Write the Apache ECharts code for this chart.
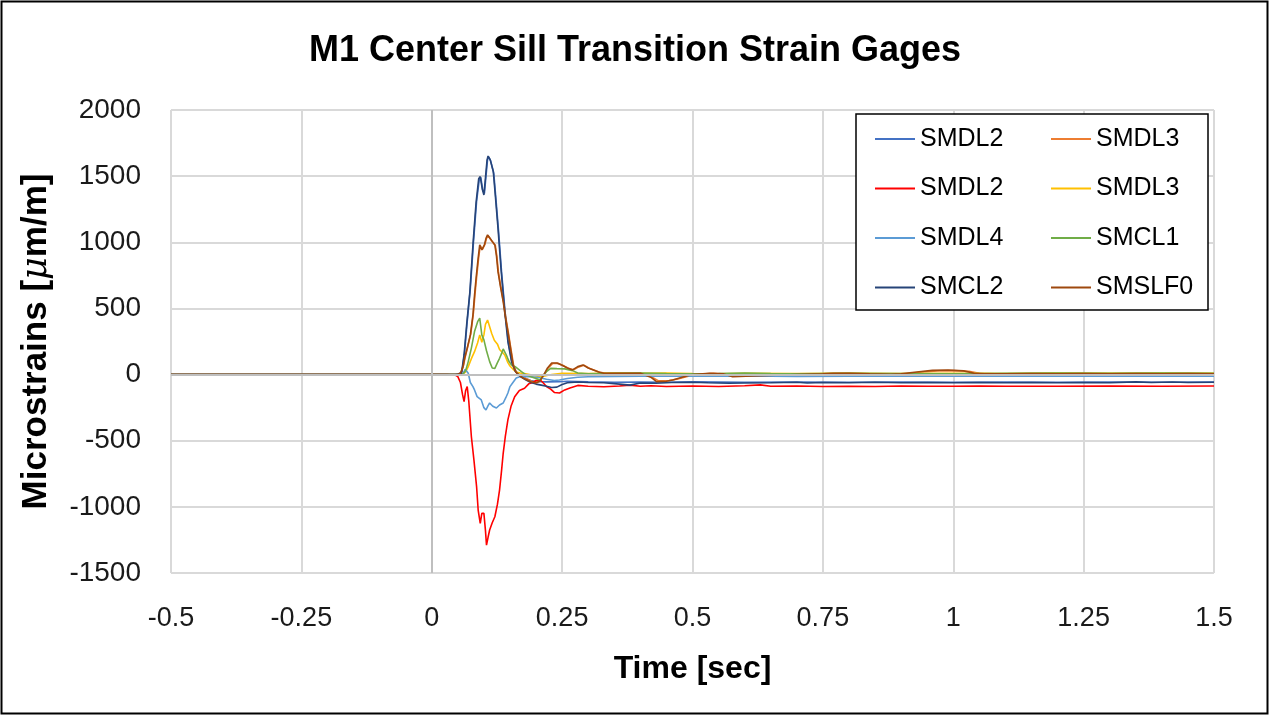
<!DOCTYPE html>
<html>
<head>
<meta charset="utf-8">
<script src="https://cdn.jsdelivr.net/npm/echarts@6/dist/echarts.min.js"></script>
<style>
  html, body { margin: 0; padding: 0; background: #fff; }
  #chart { width: 1270px; height: 716px; }
</style>
</head>
<body>
<div id="chart"></div>
<script>
// ---------- DATA ----------
const titleText = 'M1 Center Sill Transition Strain Gages';
const xTickLabels = ['-0.5', '-0.25', '0', '0.25', '0.5', '0.75', '1', '1.25', '1.5'];
const yTickLabels = ['-1500', '-1000', '-500', '0', '500', '1000', '1500', '2000'];
const seriesNames = ['SMDL2', 'SMDL3', 'SMDL2', 'SMDL3', 'SMDL4', 'SMCL1', 'SMCL2', 'SMSLF0'];
const seriesColors = ['#4472C4', '#ED7D31', '#FF0000', '#FFC000', '#5B9BD5', '#70AD47', '#264478', '#9E480E'];

// [time (s), microstrain]
const smdl2Blue = [[-0.5,0],[0.03,0],[0.05,2],[0.058,20],[0.063,170],[0.068,400],[0.074,650],[0.08,1000],[0.086,1310],[0.091,1470],[0.094,1490],[0.098,1390],[0.101,1370],[0.104,1500],[0.107,1625],[0.109,1645],[0.113,1615],[0.119,1520],[0.123,1330],[0.128,1090],[0.134,770],[0.141,460],[0.147,240],[0.154,90],[0.162,20],[0.17,-10],[0.18,-30],[0.19,-45],[0.2,-52],[0.22,-55],[0.245,-54],[0.26,-50],[0.28,-52],[0.3,-55],[0.35,-58],[0.4,-56],[0.45,-58],[0.5,-55],[0.6,-58],[0.7,-56],[0.8,-58],[0.9,-56],[1.0,-58],[1.1,-56],[1.2,-58],[1.3,-56],[1.4,-58],[1.5,-56]];

const smdl3Orange = [[-0.5,0],[0.04,0],[0.05,3],[0.056,12],[0.061,70],[0.064,130],[0.069,210],[0.075,310],[0.08,470],[0.083,610],[0.086,735],[0.09,885],[0.093,975],[0.097,945],[0.102,985],[0.105,1030],[0.108,1050],[0.111,1035],[0.115,1010],[0.122,975],[0.125,890],[0.128,770],[0.133,650],[0.138,540],[0.142,430],[0.147,315],[0.152,190],[0.157,70],[0.162,18],[0.168,0],[0.177,-22],[0.19,-48],[0.2,-58],[0.208,-45],[0.216,0],[0.223,48],[0.232,84],[0.242,85],[0.252,68],[0.262,48],[0.272,36],[0.282,58],[0.292,70],[0.302,48],[0.312,33],[0.322,18],[0.335,10],[0.36,10],[0.4,12],[0.42,-15],[0.435,-48],[0.455,-45],[0.47,-36],[0.49,-15],[0.51,2],[0.54,10],[0.57,2],[0.59,-12],[0.63,-8],[0.67,-2],[0.71,2],[0.76,8],[0.8,10],[0.84,6],[0.88,4],[0.91,6],[0.94,20],[0.97,28],[1.0,30],[1.03,25],[1.05,10],[1.08,6],[1.15,6],[1.2,8],[1.25,5],[1.3,8],[1.35,6],[1.4,8],[1.45,6],[1.5,8]];

const smdl2Red = [[-0.5,0],[0.03,0],[0.04,-5],[0.045,-3],[0.05,-16],[0.055,-60],[0.059,-150],[0.062,-205],[0.065,-120],[0.068,-91],[0.071,-200],[0.076,-470],[0.081,-650],[0.086,-848],[0.089,-1024],[0.093,-1125],[0.096,-1049],[0.1,-1049],[0.103,-1180],[0.105,-1289],[0.108,-1230],[0.111,-1175],[0.116,-1120],[0.121,-1075],[0.126,-980],[0.13,-873],[0.134,-720],[0.137,-595],[0.141,-470],[0.146,-343],[0.152,-240],[0.159,-167],[0.168,-120],[0.178,-104],[0.186,-70],[0.194,-60],[0.2,-45],[0.208,-41],[0.214,-64],[0.22,-90],[0.228,-110],[0.235,-135],[0.245,-139],[0.255,-116],[0.265,-101],[0.28,-82],[0.3,-88],[0.33,-92],[0.36,-86],[0.38,-80],[0.4,-88],[0.42,-84],[0.45,-90],[0.5,-86],[0.55,-90],[0.6,-85],[0.63,-78],[0.65,-88],[0.7,-86],[0.75,-90],[0.8,-88],[0.85,-90],[0.9,-86],[0.95,-88],[1.0,-88],[1.05,-86],[1.1,-88],[1.2,-88],[1.3,-86],[1.4,-88],[1.5,-86]];

const smdl3Yellow = [[-0.5,0],[0.05,0],[0.06,5],[0.065,20],[0.07,60],[0.076,120],[0.082,173],[0.088,240],[0.092,300],[0.096,245],[0.1,300],[0.103,380],[0.107,412],[0.11,375],[0.115,310],[0.12,260],[0.126,230],[0.13,190],[0.135,170],[0.14,148],[0.146,90],[0.15,65],[0.156,40],[0.162,20],[0.17,12],[0.18,5],[0.2,-10],[0.21,-16],[0.23,0],[0.25,10],[0.3,8],[0.35,12],[0.4,10],[0.45,12],[0.5,8],[0.55,5],[0.6,10],[0.7,8],[0.8,10],[0.9,8],[1.0,10],[1.1,8],[1.2,12],[1.3,10],[1.4,12],[1.5,10]];

const smdl4 = [[-0.5,0],[0.05,0],[0.06,5],[0.064,40],[0.067,50],[0.07,10],[0.074,-60],[0.079,-91],[0.082,-116],[0.087,-167],[0.095,-192],[0.1,-250],[0.104,-268],[0.108,-235],[0.111,-215],[0.117,-240],[0.124,-253],[0.13,-230],[0.137,-215],[0.142,-175],[0.146,-139],[0.15,-91],[0.155,-64],[0.162,-26],[0.17,-15],[0.19,-16],[0.205,-22],[0.22,-35],[0.235,-45],[0.245,-41],[0.26,-30],[0.28,-20],[0.3,-16],[0.35,-14],[0.4,-12],[0.5,-12],[0.6,-10],[0.7,-14],[0.8,-12],[0.9,-10],[1.0,-12],[1.1,-12],[1.2,-10],[1.3,-12],[1.4,-10],[1.5,-12]];

const smcl1 = [[-0.5,0],[0.05,0],[0.06,5],[0.065,30],[0.07,98],[0.076,200],[0.082,325],[0.088,400],[0.092,426],[0.096,300],[0.1,262],[0.105,180],[0.111,98],[0.116,50],[0.121,47],[0.126,90],[0.13,123],[0.134,160],[0.137,194],[0.143,148],[0.148,100],[0.153,73],[0.16,60],[0.172,22],[0.18,0],[0.19,-16],[0.2,-30],[0.208,-41],[0.215,0],[0.22,22],[0.228,47],[0.24,45],[0.255,43],[0.27,30],[0.28,12],[0.3,5],[0.35,10],[0.4,12],[0.45,8],[0.5,5],[0.55,8],[0.6,12],[0.65,8],[0.7,6],[0.75,8],[0.8,10],[0.9,8],[1.0,6],[1.1,10],[1.2,12],[1.3,10],[1.4,12],[1.5,10]];

const smcl2 = [[-0.5,0],[0.03,0],[0.045,1],[0.052,4],[0.057,10],[0.062,150],[0.067,380],[0.073,620],[0.079,980],[0.085,1300],[0.09,1480],[0.093,1497],[0.097,1400],[0.1,1358],[0.103,1487],[0.106,1620],[0.108,1652],[0.112,1625],[0.118,1535],[0.122,1350],[0.127,1108],[0.133,790],[0.14,476],[0.146,250],[0.153,98],[0.16,25],[0.17,-15],[0.18,-40],[0.19,-60],[0.2,-72],[0.21,-80],[0.22,-88],[0.23,-98],[0.24,-95],[0.25,-75],[0.26,-62],[0.28,-56],[0.3,-60],[0.33,-62],[0.36,-72],[0.38,-80],[0.4,-64],[0.43,-66],[0.46,-60],[0.5,-58],[0.53,-62],[0.57,-66],[0.6,-64],[0.65,-62],[0.7,-58],[0.72,-64],[0.75,-60],[0.8,-62],[0.85,-58],[0.9,-62],[0.95,-60],[1.0,-62],[1.05,-60],[1.1,-62],[1.15,-60],[1.2,-62],[1.25,-60],[1.3,-62],[1.35,-55],[1.38,-60],[1.42,-56],[1.45,-60],[1.5,-58]];

const smslf0 = [[-0.5,0],[0.04,0],[0.05,3],[0.055,10],[0.06,60],[0.063,123],[0.068,200],[0.074,300],[0.079,450],[0.082,600],[0.085,728],[0.089,880],[0.092,980],[0.096,942],[0.101,980],[0.104,1030],[0.107,1056],[0.11,1040],[0.114,1018],[0.121,980],[0.124,900],[0.127,778],[0.132,660],[0.137,551],[0.141,440],[0.146,325],[0.151,200],[0.156,73],[0.161,20],[0.166,0],[0.175,-26],[0.19,-54],[0.2,-64],[0.207,-50],[0.215,0],[0.222,50],[0.23,88],[0.24,88],[0.25,70],[0.26,50],[0.27,35],[0.28,60],[0.29,73],[0.3,50],[0.31,35],[0.32,20],[0.33,10],[0.35,10],[0.4,10],[0.42,-20],[0.431,-54],[0.45,-50],[0.462,-41],[0.48,-20],[0.5,0],[0.533,10],[0.56,5],[0.577,-16],[0.615,-10],[0.66,-5],[0.7,0],[0.75,5],[0.77,10],[0.8,10],[0.84,5],[0.88,2],[0.9,5],[0.93,20],[0.96,32],[0.99,34],[1.02,28],[1.04,10],[1.06,5],[1.1,5],[1.15,8],[1.2,5],[1.25,8],[1.3,5],[1.35,8],[1.4,5],[1.45,8],[1.5,5]];

const seriesData = [smdl2Blue, smdl3Orange, smdl2Red, smdl3Yellow, smdl4, smcl1, smcl2, smslf0];

// ---------- CHART ----------
const FONT = '"Liberation Sans", Arial, sans-serif';
const ids = seriesNames.map((n, i) => n + '|' + i);
const chart = echarts.init(document.getElementById('chart'), null, { renderer: 'canvas' });

const series = [{
  type: 'line', name: '__axes', data: [], z: 1, silent: true,
  markLine: {
    silent: true, symbol: 'none', label: { show: false },
    lineStyle: { color: '#bfbfbf', type: 'solid', width: 2 },
    data: [{ xAxis: 0 }, { yAxis: 0 }]
  }
}];
seriesData.forEach((d, i) => {
  series.push({
    type: 'line', name: ids[i], data: d, showSymbol: false, symbol: 'none',
    color: seriesColors[i],
    lineStyle: { width: 1.6, color: seriesColors[i] },
    z: 2, animation: false
  });
});

const legendCommon = {
  orient: 'vertical', icon: 'rect', itemWidth: 40, itemHeight: 2, itemGap: 23.5,
  padding: 0,
  textStyle: { fontFamily: FONT, fontSize: 25, color: '#000', lineHeight: 26 },
  formatter: n => n.split('|')[0], selectedMode: false, z: 5
};

chart.setOption({
  animation: false,
  backgroundColor: '#fff',
  textStyle: { fontFamily: FONT },
  title: {
    text: titleText, left: 'center', top: 28,
    textStyle: { fontFamily: FONT, fontSize: 36, fontWeight: 'bold', color: '#000' }
  },
  grid: { left: 171, right: 56, top: 110, bottom: 143, containLabel: false },
  xAxis: {
    type: 'value', min: -0.5, max: 1.5, interval: 0.25,
    name: 'Time [sec]', nameLocation: 'middle', nameGap: 80,
    nameTextStyle: { fontFamily: FONT, fontSize: 32, fontWeight: 'bold', color: '#000' },
    axisLine: { show: false }, axisTick: { show: false },
    splitLine: { show: true, lineStyle: { color: '#d9d9d9', width: 2 } },
    axisLabel: {
      fontSize: 27, color: '#1a1a1a', margin: 32, fontFamily: FONT,
      formatter: v => xTickLabels[Math.round((v + 0.5) / 0.25)]
    }
  },
  yAxis: {
    type: 'value', min: -1500, max: 2000, interval: 500,
    name: 'Microstrains [{mu|μ}m/m]', nameLocation: 'middle', nameGap: 117, nameRotate: 90,
    nameTextStyle: {
      fontFamily: FONT, fontSize: 35, fontWeight: 'bold', color: '#000',
      rich: { mu: { fontFamily: '"DejaVu Serif", serif', fontStyle: 'italic', fontWeight: 'normal', fontSize: 35, color: '#000' } }
    },
    axisLine: { show: false }, axisTick: { show: false },
    splitLine: { show: true, lineStyle: { color: '#d9d9d9', width: 2 } },
    axisLabel: {
      fontSize: 28, color: '#1a1a1a', margin: 30, fontFamily: FONT,
      formatter: v => yTickLabels[Math.round((v + 1500) / 500)]
    }
  },
  legend: [
    Object.assign({}, legendCommon, { left: 875, top: 126, data: [ids[0], ids[2], ids[4], ids[6]] }),
    Object.assign({}, legendCommon, { left: 1051, top: 126, data: [ids[1], ids[3], ids[5], ids[7]] })
  ],
  graphic: [
    {
      type: 'rect', z: 3, silent: true,
      shape: { x: 856, y: 114, width: 352, height: 196 },
      style: { fill: '#fff', stroke: '#000', lineWidth: 1.5 }
    },
    {
      type: 'rect', z: 10, silent: true,
      shape: { x: 1.5, y: 1.5, width: 1266, height: 712 },
      style: { fill: 'none', stroke: '#000', lineWidth: 2 }
    }
  ],
  series: series
});
</script>
</body>
</html>
